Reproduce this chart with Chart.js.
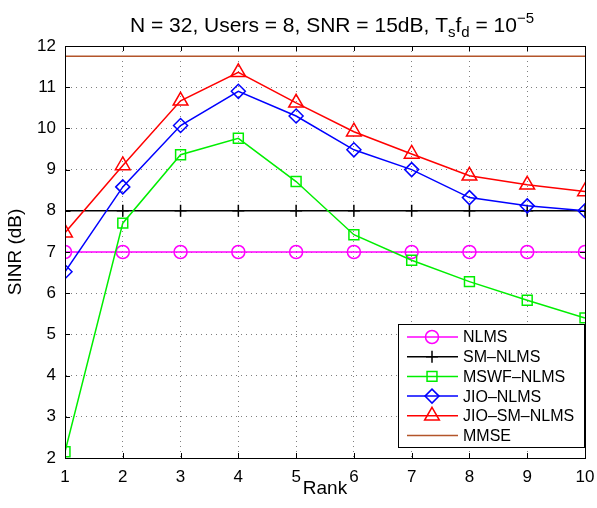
<!DOCTYPE html>
<html>
<head>
<meta charset="utf-8">
<script src="https://cdn.jsdelivr.net/npm/chart.js@4.4.1/dist/chart.umd.min.js"></script>
<style>
  body { margin: 0; background: #fff; }
  #wrap { width: 597px; height: 508px; }
</style>
</head>
<body>
<div id="wrap"><canvas id="grafik" width="597" height="508"></canvas></div>
<script>
// data
var rank = [1, 2, 3, 4, 5, 6, 7, 8, 9, 10];
var nlms = [7, 7, 7, 7, 7, 7, 7, 7, 7, 7];
var smNlms = [8, 8, 8, 8, 8, 8, 8, 8, 8, 8];
var mswfNlms = [2.15, 7.7, 9.36, 9.76, 8.71, 7.42, 6.8, 6.28, 5.83, 5.4];
var jioNlms = [6.52, 8.58, 10.07, 10.9, 10.3, 9.48, 9.0, 8.32, 8.12, 8.0];
var jioSmNlms = [7.47, 9.1, 10.67, 11.36, 10.62, 9.92, 9.38, 8.85, 8.63, 8.47];
var mmse = [11.75, 11.75, 11.75, 11.75, 11.75, 11.75, 11.75, 11.75, 11.75, 11.75];
var yTicks = [2, 3, 4, 5, 6, 7, 8, 9, 10, 11, 12];

var FONT = "'Liberation Sans', Arial, Helvetica, sans-serif";

function pts(arr){
    return arr.map(function(v, i){ return {x: rank[i], y: v}; });
}

function seri(label, arr, color, style, radius, idx){
    return {
        label: label,
        data: pts(arr),
        borderColor: color,
        borderWidth: 1.5,
        pointStyle: style,
        pointRadius: radius,
        pointHoverRadius: radius,
        pointBorderColor: color,
        pointBorderWidth: 1.5,
        pointBackgroundColor: 'rgba(0,0,0,0)',
        tension: 0,
        order: -idx
    };
}

var datasets = [
    seri('NLMS', nlms, '#ff00ff', 'circle', 6.5, 0),
    seri('SM–NLMS', smNlms, '#000000', 'cross', 6, 1),
    seri('MSWF–NLMS', mswfNlms, '#00ee00', 'rect', 7, 2),
    seri('JIO–NLMS', jioNlms, '#0000ff', 'rectRot', 7, 3),
    seri('JIO–SM–NLMS', jioSmNlms, '#ff0000', 'triangle', 8.5, 4),
    seri('MMSE', mmse, '#b3552a', false, 0, 5)
];

// frame, inward ticks, title with sub/superscripts, legend inside the plot
var hiasan = {
    id: 'hiasan',
    afterDraw: function(chart){
        var ctx = chart.ctx;
        var a = chart.chartArea;
        var sx = chart.scales.x, sy = chart.scales.y;
        ctx.save();
        ctx.strokeStyle = '#000';
        ctx.lineWidth = 1;
        ctx.strokeRect(a.left + 0.5, a.top + 0.5, a.right - a.left, a.bottom - a.top);

        var t = 5;
        ctx.beginPath();
        rank.forEach(function(r){
            var px = Math.round(sx.getPixelForValue(r)) + 0.5;
            ctx.moveTo(px, a.bottom); ctx.lineTo(px, a.bottom - t);
            ctx.moveTo(px, a.top); ctx.lineTo(px, a.top + t);
        });
        yTicks.forEach(function(v){
            var py = Math.round(sy.getPixelForValue(v)) + 0.5;
            ctx.moveTo(a.left, py); ctx.lineTo(a.left + t, py);
            ctx.moveTo(a.right, py); ctx.lineTo(a.right - t, py);
        });
        ctx.stroke();

        // title
        var parts = [
            ['N = 32, Users = 8, SNR = 15dB, T', 21, 0],
            ['s', 15, 5],
            ['f', 21, 0],
            ['d', 15, 5],
            [' = 10', 21, 0],
            ['−5', 15, -9]
        ];
        var total = 0;
        parts.forEach(function(p){
            ctx.font = p[1] + 'px ' + FONT;
            total += ctx.measureText(p[0]).width;
        });
        var x0 = (a.left + a.right) / 2 - total / 2 + 7;
        ctx.fillStyle = '#000';
        ctx.textBaseline = 'alphabetic';
        ctx.textAlign = 'left';
        parts.forEach(function(p){
            ctx.font = p[1] + 'px ' + FONT;
            ctx.fillText(p[0], x0, 32 + p[2]);
            x0 += ctx.measureText(p[0]).width;
        });

        // legend
        var bx = 398, by = 324, bw = 186, bh = 123;
        ctx.fillStyle = '#fff';
        ctx.fillRect(bx, by, bw, bh);
        ctx.strokeStyle = '#000';
        ctx.lineWidth = 1;
        ctx.strokeRect(bx + 0.5, by + 0.5, bw, bh);
        chart.data.datasets.forEach(function(ds, i){
            var cy = 337 + i * 19.7;
            ctx.strokeStyle = ds.borderColor;
            ctx.lineWidth = 1.5;
            ctx.beginPath();
            ctx.moveTo(407, cy); ctx.lineTo(458, cy);
            ctx.stroke();
            if (ds.pointStyle && Chart.helpers && Chart.helpers.drawPoint) {
                ctx.fillStyle = 'rgba(0,0,0,0)';
                Chart.helpers.drawPoint(ctx, {
                    pointStyle: ds.pointStyle,
                    radius: ds.pointRadius,
                    rotation: 0,
                    borderWidth: 1.5
                }, 432, cy);
            }
            ctx.fillStyle = '#000';
            ctx.font = '16px ' + FONT;
            ctx.textBaseline = 'middle';
            ctx.fillText(ds.label, 463, cy + 1);
        });
        ctx.restore();
    }
};

var ctx = document.getElementById('grafik').getContext('2d');
window.grafikSinr = new Chart(ctx, {
    type: 'line',
    data: { datasets: datasets },
    plugins: [hiasan],
    options: {
        responsive: false,
        animation: false,
        layout: { padding: { top: 46, right: 12, left: 0, bottom: 0 } },
        plugins: { legend: { display: false }, title: { display: false }, tooltip: { enabled: false } },
        scales: {
            x: {
                type: 'linear', min: 1, max: 10,
                afterFit: function(s){ s.height = 50; s.paddingLeft = 0; s.paddingRight = 0; },
                afterBuildTicks: function(s){ s.ticks = rank.map(function(v){ return {value: v}; }); },
                ticks: { color: '#000', font: { family: FONT, size: 17 }, padding: 9, maxRotation: 0 },
                grid: { color: 'rgba(0,0,0,0.5)', drawTicks: false },
                border: { color: '#000', width: 1, dash: [1, 4] },
                title: { display: true, text: 'Rank', color: '#000', font: { family: FONT, size: 19 }, padding: { top: 0, bottom: 8 } }
            },
            y: {
                min: 2, max: 12,
                afterFit: function(s){ s.width = 65; s.paddingTop = 0; s.paddingBottom = 0; },
                afterBuildTicks: function(s){ s.ticks = yTicks.map(function(v){ return {value: v}; }); },
                ticks: { color: '#000', font: { family: FONT, size: 17 }, padding: 9 },
                grid: { color: 'rgba(0,0,0,0.5)', drawTicks: false },
                border: { color: '#000', width: 1, dash: [1, 4] },
                title: { display: true, text: 'SINR (dB)', color: '#000', font: { family: FONT, size: 19 }, padding: { top: 4, bottom: 0 } }
            }
        }
    }
});
</script>
</body>
</html>
